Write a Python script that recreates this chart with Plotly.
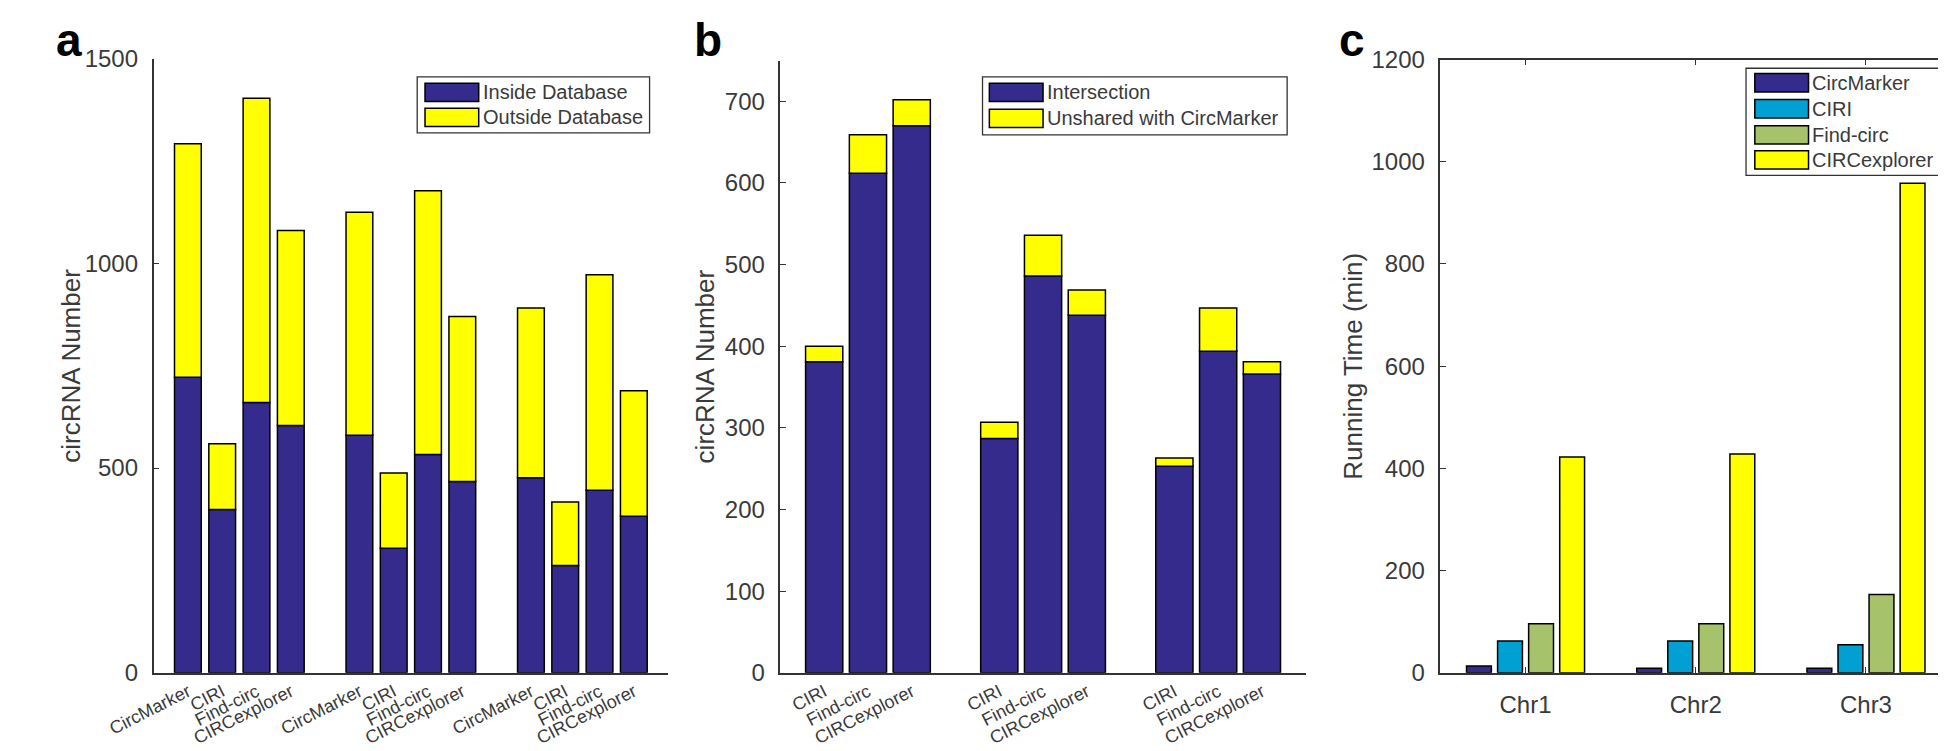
import plotly.graph_objects as go

# ---------------- data ----------------
# Panel a
a_methods = ["CircMarker", "CIRI", "Find-circ", "CIRCexplorer"]
a_inside = [722, 399, 660, 604, 580, 304, 533, 467, 476, 262, 446, 382]
a_outside = [570, 160, 743, 476, 545, 184, 644, 403, 415, 155, 526, 307]
a_series = ["Inside Database", "Outside Database"]
a_yticks = [0, 500, 1000, 1500]

# Panel b
b_methods = ["CIRI", "Find-circ", "CIRCexplorer"]
b_intersection = [381, 612, 670, 287, 486, 438, 253, 394, 366]
b_unshared = [19, 47, 32, 20, 50, 31, 10, 53, 15]
b_series = ["Intersection", "Unshared with CircMarker"]
b_yticks = [0, 100, 200, 300, 400, 500, 600, 700]

# Panel c
c_chroms = ["Chr1", "Chr2", "Chr3"]
c_methods = ["CircMarker", "CIRI", "Find-circ", "CIRCexplorer"]
c_times = {
    "CircMarker": [13, 9, 9],
    "CIRI": [62, 62, 55],
    "Find-circ": [96, 96, 153],
    "CIRCexplorer": [422, 428, 958],
}
c_yticks = [0, 200, 400, 600, 800, 1000, 1200]

# ---------------- style ----------------
W, H = 1946, 751
NAVY = "#342b8c"
YELLOW = "#ffff00"
CIRI_BLUE = "#00a0d2"
GREEN = "#a6c36b"
c_colors = [NAVY, CIRI_BLUE, GREEN, YELLOW]
AX = "#333333"
TXT = "#3a3a3a"
FONT = "Liberation Sans, Arial, Helvetica, sans-serif"


def px(x):
    return x / W


def py(y):
    return 1 - y / H


# positions (group layout)
a_pos = [g * 5 + i + 1 for g in range(3) for i in range(len(a_methods))]
a_lab = [m for g in range(3) for m in a_methods]
b_pos = [g * 4 + i + 1 for g in range(3) for i in range(len(b_methods))]
b_lab = [m for g in range(3) for m in b_methods]

fig = go.Figure()
line = dict(color="black", width=1.5)

# Panel a stacked
fig.add_trace(go.Bar(x=a_pos, y=a_inside, name=a_series[0], marker=dict(color=NAVY, line=line),
                     width=0.78, offset=-0.39, xaxis="x", yaxis="y", showlegend=False))
fig.add_trace(go.Bar(x=a_pos, y=a_outside, base=a_inside, name=a_series[1],
                     marker=dict(color=YELLOW, line=line),
                     width=0.78, offset=-0.39, xaxis="x", yaxis="y", showlegend=False))
# Panel b stacked
fig.add_trace(go.Bar(x=b_pos, y=b_intersection, name=b_series[0], marker=dict(color=NAVY, line=line),
                     width=0.85, offset=-0.425, xaxis="x2", yaxis="y2", showlegend=False))
fig.add_trace(go.Bar(x=b_pos, y=b_unshared, base=b_intersection, name=b_series[1],
                     marker=dict(color=YELLOW, line=line),
                     width=0.85, offset=-0.425, xaxis="x2", yaxis="y2", showlegend=False))
# Panel c grouped
for m, col in zip(c_methods, c_colors):
    fig.add_trace(go.Bar(x=[1, 2, 3], y=c_times[m], name=m, marker=dict(color=col, line=line),
                         xaxis="x3", yaxis="y3", showlegend=False))

ydom_bottom = py(675)
common_y = dict(showline=True, linecolor=AX, linewidth=1.5, ticks="inside", ticklen=6,
                tickcolor=AX, tickwidth=1.2, showgrid=False, zeroline=False,
                tickfont=dict(family=FONT, size=24, color=TXT), ticklabelstandoff=9)
common_x = dict(showline=True, linecolor=AX, linewidth=1.5, showgrid=False, zeroline=False)

fig.update_layout(
    width=W, height=H, margin=dict(l=0, r=0, t=0, b=0),
    paper_bgcolor="white", plot_bgcolor="white",
    barmode="group", bargap=0.27, bargroupgap=0.2,
    xaxis=dict(domain=[px(102), px(629)], range=[0, 15], anchor="y", tickmode="array",
               tickvals=a_pos, ticktext=a_lab, tickangle=-27, ticks="",
               tickfont=dict(family=FONT, size=18, color=TXT), **common_x),
    yaxis=dict(domain=[ydom_bottom, py(38)], range=[0, 1500], anchor="x", tickmode="array",
               tickvals=a_yticks, **common_y),
    xaxis2=dict(domain=[px(744), px(1282)], range=[0, 12], anchor="y2", tickmode="array",
                tickvals=b_pos, ticktext=b_lab, tickangle=-27, ticks="",
                tickfont=dict(family=FONT, size=18, color=TXT), **common_x),
    yaxis2=dict(domain=[ydom_bottom, py(40)], range=[0, 750], anchor="x2", tickmode="array",
                tickvals=b_yticks, **common_y),
    xaxis3=dict(domain=[px(1420), px(1943)], range=[0.5, 3.5], anchor="y3", tickmode="array",
                tickvals=[1, 2, 3], ticktext=c_chroms, ticks="inside", ticklen=6, tickcolor=AX,
                mirror="ticks", tickfont=dict(family=FONT, size=24, color=TXT),
                ticklabelstandoff=10, **common_x),
    yaxis3=dict(domain=[ydom_bottom, py(39)], range=[0, 1200], anchor="x3", tickmode="array",
                tickvals=c_yticks, mirror="ticks", **common_y),
)

annotations = []
shapes = []

# y-axis titles
ymid = (ydom_bottom + py(39)) / 2
for xc, t in [(18, "circRNA Number"), (667, "circRNA Number"), (1331, "Running Time (min)")]:
    annotations.append(dict(x=px(xc), y=ymid, xref="paper", yref="paper", text=t, textangle=-90,
                            showarrow=False, xanchor="center", yanchor="middle",
                            font=dict(family=FONT, size=26, color=TXT)))

# panel letters
for xl, t in [(0, "a"), (653, "b"), (1314, "c")]:
    annotations.append(dict(x=px(xl), y=py(48), xref="paper", yref="paper", text="<b>%s</b>" % t,
                            showarrow=False, xanchor="left", yanchor="bottom",
                            font=dict(family=FONT, size=46, color="black")))


def legend(box, patch_x, rows, names, colors, ph):
    x0, y0, x1, y1 = box
    shapes.append(dict(type="rect", xref="paper", yref="paper", x0=px(x0), x1=px(x1),
                       y0=py(y1), y1=py(y0), line=dict(color=AX, width=1.3), fillcolor="white",
                       layer="above"))
    for yc, n, c in zip(rows, names, colors):
        shapes.append(dict(type="rect", xref="paper", yref="paper", x0=px(patch_x[0]),
                           x1=px(patch_x[1]), y0=py(yc + ph / 2), y1=py(yc - ph / 2),
                           line=dict(color="black", width=1.5), fillcolor=c, layer="above"))
        annotations.append(dict(x=px(patch_x[1] + 2), y=py(yc), xref="paper", yref="paper",
                                text=n, showarrow=False, xanchor="left", yanchor="middle",
                                font=dict(family=FONT, size=20, color=TXT)))


legend((372, 57, 610, 115), (380, 435), [73, 99], a_series, [NAVY, YELLOW], 19)
legend((951, 57, 1263, 117), (958, 1013), [73, 100], b_series, [NAVY, YELLOW], 19)
legend((1733, 48, 1931, 159), (1742, 1797), [63, 90, 117, 143], c_methods, c_colors, 19)

fig.update_layout(annotations=annotations, shapes=shapes)
fig.write_html("out.html")
